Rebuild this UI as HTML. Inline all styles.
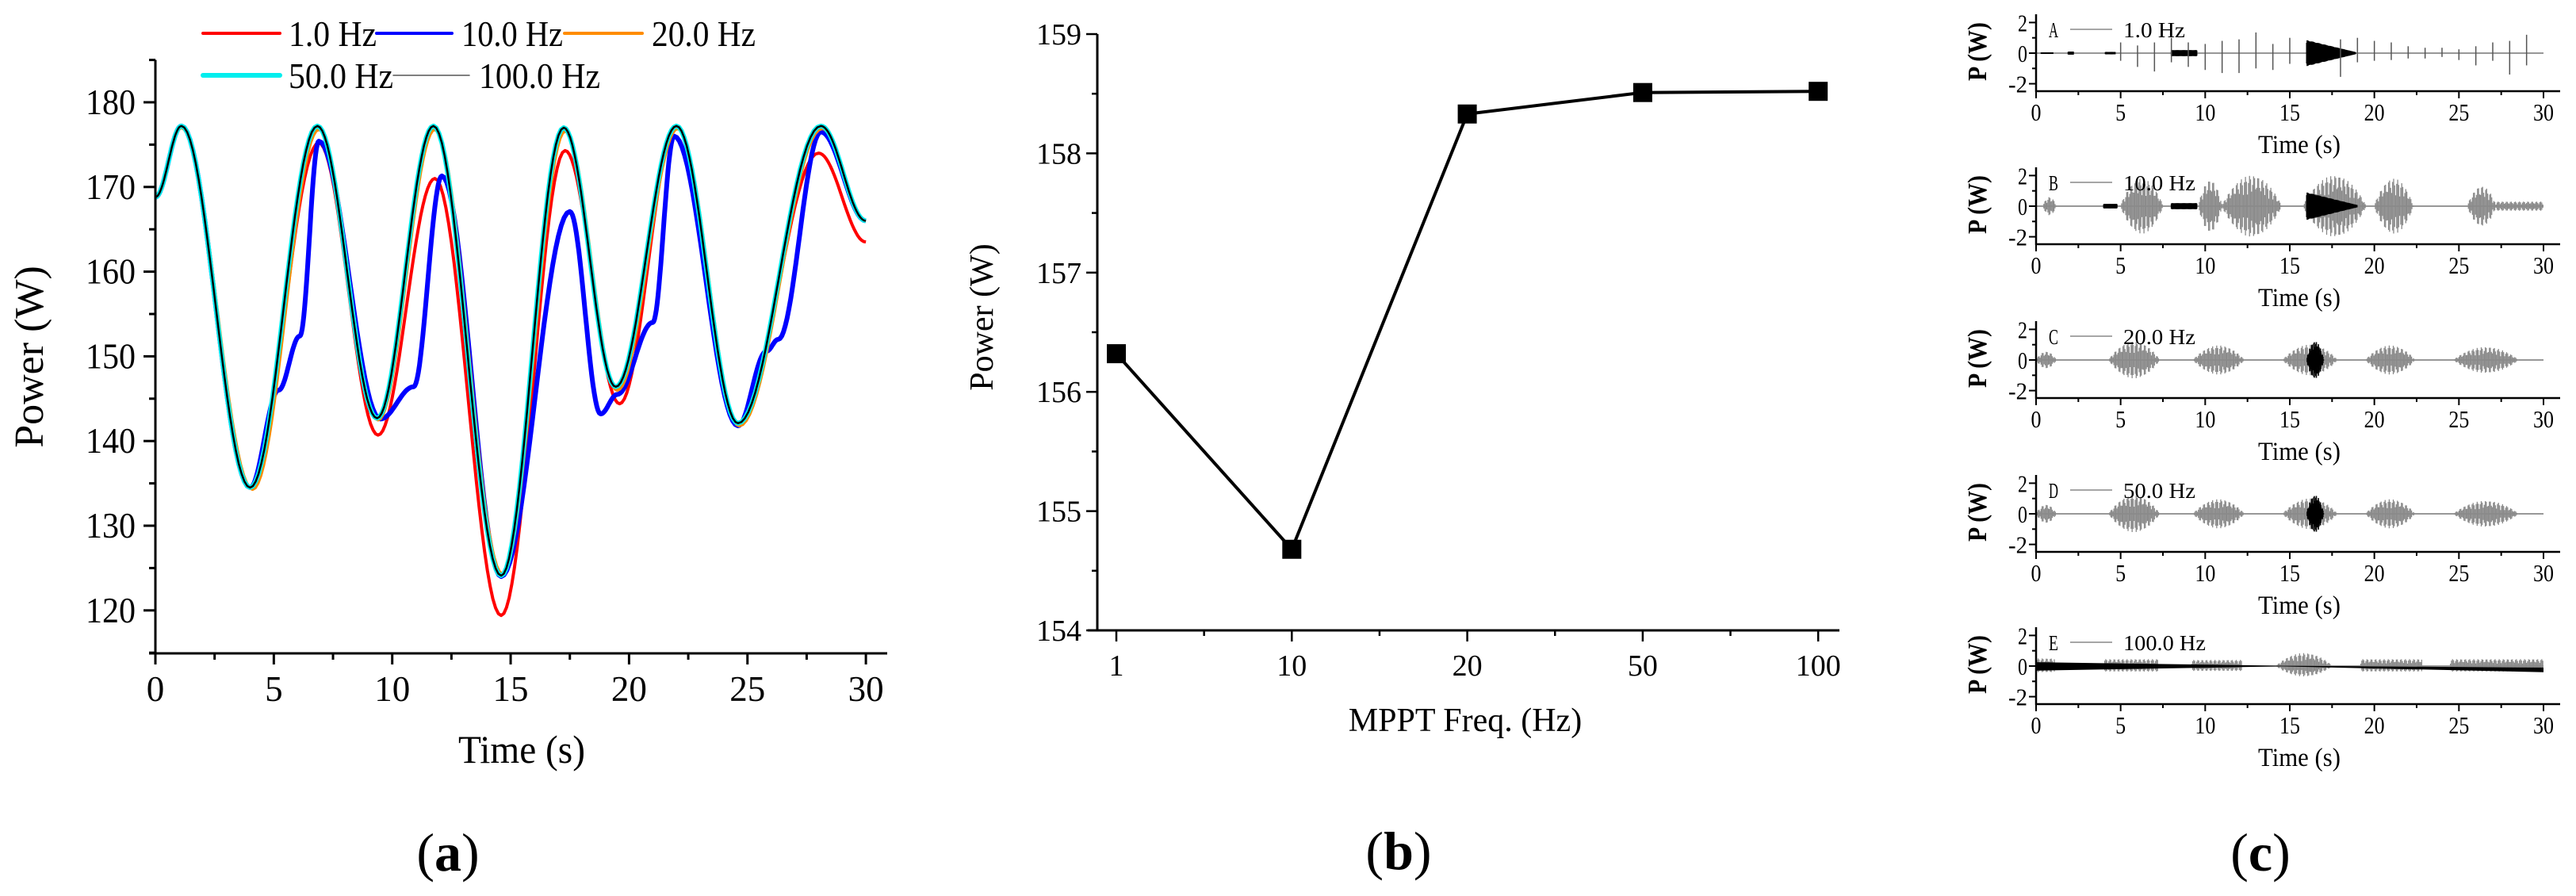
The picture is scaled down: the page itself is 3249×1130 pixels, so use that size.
<!DOCTYPE html>
<html><head><meta charset="utf-8"><style>
html,body{margin:0;padding:0;background:#fff;}
svg{display:block;}
text{font-family:"Liberation Serif",serif;fill:#000;}
</style></head><body>
<svg id="fig" width="3249" height="1130" viewBox="0 0 3249 1130" xmlns="http://www.w3.org/2000/svg">
<rect x="0" y="0" width="3249" height="1130" fill="#fff"/>
<g id="pa"></g>
<g id="pb"></g>
<g id="pc"></g>
</svg>
<script>
// ---------- Panel (a) data ----------
const aBaseT = [0,1.1,4.0,6.84,9.36,11.74,14.6,17.24,19.44,22.0,24.6,28.1,30];
const aBaseV = [168.8,177.2,134.5,177.2,142.7,177.2,124.1,177.0,146.4,177.2,142.1,177.2,166.0];
const aRedT = [0,1.1,4.0,6.9,9.4,11.8,14.6,17.3,19.6,22.0,24.6,28.0,30];
const aRedV = [168.8,177.2,134.5,175.2,140.7,171.0,119.4,174.3,144.4,177.2,142.0,174.0,163.5];
const aBlueT = [0,1.1,4.0,5.2,6.1,6.9,9.5,10.9,12.1,14.6,17.5,18.8,19.5,21.0,21.9,24.6,25.8,26.3,28.1,30];
const aBlueV = [168.8,177.2,134.5,146.0,152.4,175.4,142.6,146.4,171.3,124.0,167.1,143.2,145.5,154.0,176.0,141.8,150.6,152.0,176.5,166.0];
const aOrangeT = [0,1.1,4.1,6.9,9.4,11.8,14.65,17.3,19.5,22.05,24.65,28.15,30];
const aOrangeV = [168.8,177.0,134.3,176.8,142.5,176.8,124.3,176.6,146.0,176.9,141.8,176.9,166.0];
const aSeriesNames = ["1.0 Hz","10.0 Hz","20.0 Hz","50.0 Hz","100.0 Hz"];
const aYTicks = [120,130,140,150,160,170,180];
const aXTicks = [0,5,10,15,20,25,30];

// ---------- Panel (b) data ----------
const bCats = ["1","10","20","50","100"];
const bVals = [156.32,154.68,158.33,158.51,158.52];
const bYTicks = [154,155,156,157,158,159];

// ---------- Panel (c) data ----------
const cLetters = ["A","B","C","D","E"];
const cFreqs = ["1.0 Hz","10.0 Hz","20.0 Hz","50.0 Hz","100.0 Hz"];
const cYTicks = [-2,0,2];
const cXTicks = [0,5,10,15,20,25,30];
// bursts per subplot: start, end, amplitude, color (0 gray,1 black), shape (0 hump,1 decay,2 flat)
const cBurstStart = [[0.3,1.9,4.1,8.0,16.0],[0.4,4.0,5.0,8.0,9.6,11.0,16.0,15.8,20.0,25.5,27.2],[0,4.3,9.3,14.6,16.0,19.5,24.7],[0,4.3,9.3,14.6,16.0,19.5,24.7],[0,4.0,9.2,14.2,19.2,24.5]];
const cBurstEnd = [[1.0,2.2,4.7,9.5,18.9],[1.2,4.8,7.5,9.5,11.0,14.5,19.0,19.5,22.3,27.2,30],[1.2,7.3,12.3,17.8,17.0,22.4,28.5],[1.2,7.3,12.3,17.8,17.0,22.4,28.5],[1.1,7.2,12.2,17.5,22.8,30]];
const cBurstAmp = [[0.05,0.1,0.08,0.2,0.85],[0.6,0.15,1.8,0.2,1.7,2.0,0.9,2.0,1.8,1.3,0.3],[0.55,1.2,0.95,1.0,1.2,0.95,0.85],[0.6,1.2,0.95,1.0,1.2,0.95,0.85],[0.5,0.45,0.4,0.85,0.45,0.45]];
const cBurstColor = [[1,1,1,1,1],[0,1,0,1,0,0,1,0,0,0,0],[0,0,0,0,1,0,0],[0,0,0,0,1,0,0],[0,0,0,0,0,0]];
const cBurstShape = [[2,2,2,2,1],[0,2,0,2,0,0,1,0,0,0,2],[0,0,0,0,0,0,0],[0,0,0,0,0,0,0],[2,2,2,0,2,2]];
// isolated spikes in subplot A: time, up amplitude, down amplitude
const cSpikeT = [5,6,7,8,9,10,11,12,13,14,15,18,19,20,21,22,23,24,25,26,27,28,29];
const cSpikeUp = [0.7,0.5,0.7,1.0,0.7,0.6,0.8,0.9,1.35,0.6,1.0,0.9,1.0,0.8,0.7,0.45,0.35,0.35,0.25,0.45,0.7,0.8,1.2];
const cSpikeDn = [0.5,0.9,1.2,0.6,0.9,1.1,1.3,1.3,1.0,1.1,0.7,1.55,0.6,0.5,0.45,0.35,0.35,0.25,0.45,0.8,0.5,1.4,0.8];

const NS="http://www.w3.org/2000/svg";
function el(tag,attrs,parent){const e=document.createElementNS(NS,tag);for(const k in attrs)e.setAttribute(k,attrs[k]);parent.appendChild(e);return e;}
function txt(s,attrs,parent){const t=el("text",attrs,parent);t.textContent=s;return t;}

function smoothPath(ts,vs,xf,yf){
  let d="M"+xf(ts[0]).toFixed(1)+","+yf(vs[0]).toFixed(1);
  for(let i=0;i<ts.length-1;i++){
    for(let k=1;k<=24;k++){
      const f=k/24;const e=(1-Math.cos(Math.PI*f))/2;
      const t=ts[i]+(ts[i+1]-ts[i])*f;const v=vs[i]+(vs[i+1]-vs[i])*e;
      d+=" L"+xf(t).toFixed(1)+","+yf(v).toFixed(1);
    }
  }
  return d;
}

// ================= Panel (a) =================
(function(){
  const g=document.getElementById("pa");
  const X0=196, PX=29.87, Y180=129, PY=10.68;
  const xf=t=>X0+t*PX, yf=v=>Y180+(180-v)*PY;
  const yTop=75.5, yBot=824, xRight=1119;
  const series=[
    {t:aRedT,v:aRedV,c:"#ff0000",w:4,n:"series-1hz"},
    {t:aBlueT,v:aBlueV,c:"#0000ff",w:6,n:"series-10hz"},
    {t:aOrangeT,v:aOrangeV,c:"#ff8c00",w:4,n:"series-20hz"},
    {t:aBaseT,v:aBaseV,c:"#00eeee",w:6,n:"series-50hz"},
    {t:aBaseT,v:aBaseV,c:"#000000",w:2.5,n:"series-100hz"}];
  series.forEach(s=>{
    const p=el("path",{d:smoothPath(s.t,s.v,xf,yf),fill:"none",stroke:s.c,"stroke-width":s.w,"stroke-linejoin":"round"},g);
    
    
  });
  const ax=el("g",{},g);
  
  
  el("line",{x1:X0,y1:yTop,x2:X0,y2:yBot+1.5,stroke:"#000","stroke-width":3},ax);
  el("line",{x1:X0-8,y1:yBot,x2:xRight,y2:yBot,stroke:"#000","stroke-width":3},ax);
  for(let v=115;v<=185;v+=5){
    const major=v%10===0;const y=yf(v);
    el("line",{x1:X0-(major?15:8),y1:y,x2:X0,y2:y,stroke:"#000","stroke-width":3},ax);
  }
  aYTicks.forEach(v=>{const t=txt(String(v),{x:X0-25,y:yf(v)+15,"font-size":45,"text-anchor":"end",textLength:63,lengthAdjust:"spacingAndGlyphs"},ax);
    });
  for(let t=0;t<=30;t+=2.5){
    const major=t%5===0;
    el("line",{x1:xf(t),y1:yBot,x2:xf(t),y2:yBot+(major?14:8),stroke:"#000","stroke-width":3},ax);
  }
  aXTicks.forEach(t=>{const l=txt(String(t),{x:xf(t),y:884,"font-size":45,"text-anchor":"middle"},ax);
    });
  const xt=txt("Time (s)",{x:658,y:962,"font-size":50,"text-anchor":"middle",textLength:160,lengthAdjust:"spacingAndGlyphs"},g);
  
  const yt=txt("Power (W)",{x:0,y:0,"font-size":52,"text-anchor":"middle",transform:"translate(54,450) rotate(-90)"},g);
  
  const pl=txt("",{x:565,y:1098,"font-size":68,"text-anchor":"middle"},g);
  pl.innerHTML='(<tspan font-weight="bold">a</tspan>)';
  
  const lg=el("g",{},g);
  
  
  // x1,x2,y,color,width,textX,idx,textLen
  const leg=[[256,353,42,"#ff0000",4,364,0,111],[475,570,42,"#0000ff",4,582,1,128],[712,810,42,"#ff8c00",4,822,2,131],[256,353,95,"#00eeee",6,364,3,132],[496,592,95,"#555",1.5,604,4,153]];
  leg.forEach(L=>{
    const e=el("g",{},lg);
    
    
    el("line",{x1:L[0],y1:L[2],x2:L[1],y2:L[2],stroke:L[3],"stroke-width":L[4],"stroke-linecap":"round"},e);
    txt(aSeriesNames[L[6]],{x:L[5],y:L[2]+16,"font-size":46,textLength:L[7],lengthAdjust:"spacingAndGlyphs"},e);
  });
})();

// ================= Panel (b) =================
(function(){
  const g=document.getElementById("pb");
  const X0=1384, Y159=43, PY=150.4, yBot=795, xRight=2320;
  const xf=i=>1408+i*221.3, yf=v=>Y159+(159-v)*PY;
  const ax=el("g",{},g);
  
  
  el("line",{x1:X0,y1:Y159,x2:X0,y2:yBot+1.5,stroke:"#000","stroke-width":3},ax);
  el("line",{x1:X0-12,y1:yBot,x2:xRight,y2:yBot,stroke:"#000","stroke-width":3},ax);
  for(let v=154;v<=159.001;v+=0.5){
    const major=Math.abs(v-Math.round(v))<0.01;const y=yf(v);
    el("line",{x1:X0-(major?14:7),y1:y,x2:X0,y2:y,stroke:"#000","stroke-width":2.5},ax);
  }
  bYTicks.forEach(v=>{const t=txt(String(v),{x:X0-20,y:yf(v)+13,"font-size":38,"text-anchor":"end"},ax);
    });
  for(let i=0;i<bCats.length;i++){
    el("line",{x1:xf(i),y1:yBot,x2:xf(i),y2:yBot+14,stroke:"#000","stroke-width":2.5},ax);
    if(i<bCats.length-1) el("line",{x1:xf(i+0.5),y1:yBot,x2:xf(i+0.5),y2:yBot+7,stroke:"#000","stroke-width":2.5},ax);
    const l=txt(bCats[i],{x:xf(i),y:852,"font-size":38,"text-anchor":"middle"},ax);
    
  }
  let d="";
  bVals.forEach((v,i)=>{d+=(i?" L":"M")+xf(i)+","+yf(v);});
  const ln=el("path",{d:d,fill:"none",stroke:"#000","stroke-width":4},g);
  
  bVals.forEach((v,i)=>{
    const r=el("rect",{x:xf(i)-12,y:yf(v)-12,width:24,height:24,fill:"#000"},g);
    
    
  });
  const xt=txt("MPPT Freq. (Hz)",{x:1848,y:922,"font-size":42,"text-anchor":"middle"},g);
  
  const yt=txt("Power (W)",{x:0,y:0,"font-size":42,"text-anchor":"middle",transform:"translate(1252,400) rotate(-90)"},g);
  
  const pl=txt("",{x:1764,y:1096,"font-size":68,"text-anchor":"middle"},g);
  pl.innerHTML='(<tspan font-weight="bold">b</tspan>)';
  
})();

// ================= Panel (c) =================
(function(){
  const g=document.getElementById("pc");
  const X0=2568, PX=(3208-2568)/30, PY=19.3, xRight=3229;
  const axisYs=[115,308,502,696,888];
  const xf=t=>X0+t*PX;
  for(let s=0;s<5;s++){
    const sg=el("g",{},g);
    
    
    const base=axisYs[s], y0=base-48;
    const yf=v=>y0-v*PY;
    el("line",{x1:xf(0),y1:y0,x2:xf(30),y2:y0,stroke:"#777","stroke-width":1.5},sg);
    const bs=cBurstStart[s];
    const order=[...bs.keys()].sort((a,b)=>cBurstColor[s][a]-cBurstColor[s][b]);
    order.forEach(b=>{
      const t0=bs[b],t1=cBurstEnd[s][b],A=cBurstAmp[s][b];
      const black=cBurstColor[s][b]===1;
      const col=black?"#000":"#8a8a8a";
      const bg=el("g",{stroke:col,"stroke-width":black?1.6:1.3},sg);
      
      
      const step=black?0.03:0.06;
      let k=0;
      for(let t=t0;t<=t1;t+=step,k++){
        const f=(t-t0)/Math.max(t1-t0,0.01);
        const shape=cBurstShape[s][b];
        let env=shape===0?Math.pow(Math.sin(Math.PI*f),0.8):shape===1?(1-0.92*f):1;
        const tex=(shape===1||shape===2)&&black?(0.8+0.2*Math.abs(Math.sin(k*1.7))):(0.35+0.65*Math.abs(Math.sin(k*2.39)));
        const a=A*env*tex;
        el("line",{x1:xf(t),y1:yf(a),x2:xf(t),y2:yf(-a*(s===4?0.8:1))},bg);
      }
    });
    if(s===0){
      cSpikeT.forEach((t,i)=>{
        const sp=el("line",{x1:xf(t),y1:yf(cSpikeUp[i]),x2:xf(t),y2:yf(-cSpikeDn[i]),stroke:"#555","stroke-width":1.5},sg);
        
        
      });
    }
    if(s===4){
      el("polygon",{points:`${xf(0)},${yf(0.25)} ${xf(14.5)},${yf(0.02)} ${xf(30)},${yf(-0.1)} ${xf(30)},${yf(-0.4)} ${xf(14.5)},${yf(-0.02)} ${xf(0)},${yf(-0.3)}`,fill:"#000"},sg);
    }
    el("line",{x1:X0,y1:base-97,x2:X0,y2:base+1,stroke:"#000","stroke-width":2.5},sg);
    el("line",{x1:X0,y1:base,x2:xRight,y2:base,stroke:"#000","stroke-width":2.5},sg);
    for(let v=-2;v<=2;v++){
      el("line",{x1:X0-(v%2===0?9:5),y1:yf(v),x2:X0,y2:yf(v),stroke:"#000","stroke-width":2},sg);
    }
    cYTicks.forEach(v=>{const l=txt(String(v),{x:X0-11,y:yf(v)+11,"font-size":31,"text-anchor":"end",textLength:(String(v).length*12),lengthAdjust:"spacingAndGlyphs"},sg);
      });
    for(let t=0;t<=30;t+=2.5){
      el("line",{x1:xf(t),y1:base,x2:xf(t),y2:base+(t%5===0?9:5),stroke:"#000","stroke-width":2},sg);
    }
    cXTicks.forEach(t=>{const l=txt(String(t),{x:xf(t),y:base+37,"font-size":31,"text-anchor":"middle",textLength:(String(t).length*13),lengthAdjust:"spacingAndGlyphs"},sg);
      });
    const xt=txt("Time (s)",{x:2900,y:base+78,"font-size":33,"text-anchor":"middle",textLength:104,lengthAdjust:"spacingAndGlyphs"},sg);
    
    const yt=txt("P (W)",{x:0,y:0,"font-size":34,"font-weight":"bold","text-anchor":"middle",transform:`translate(2505,${base-50}) rotate(-90)`,textLength:74,lengthAdjust:"spacingAndGlyphs"},sg);
    
    const lg=el("g",{},sg);
    
    
    txt(cLetters[s],{x:2584,y:base-68,"font-size":27,textLength:12,lengthAdjust:"spacingAndGlyphs"},lg);
    el("line",{x1:2611,y1:base-78,x2:2664,y2:base-78,stroke:"#888","stroke-width":1.5},lg);
    txt(cFreqs[s],{x:2678,y:base-68,"font-size":27,textLength:cFreqs[s].length*13,lengthAdjust:"spacingAndGlyphs"},lg);
  }
  const pl=txt("",{x:2851,y:1098,"font-size":68,"text-anchor":"middle"},g);
  pl.innerHTML='(<tspan font-weight="bold">c</tspan>)';
  
})();
</script>
</body></html>
